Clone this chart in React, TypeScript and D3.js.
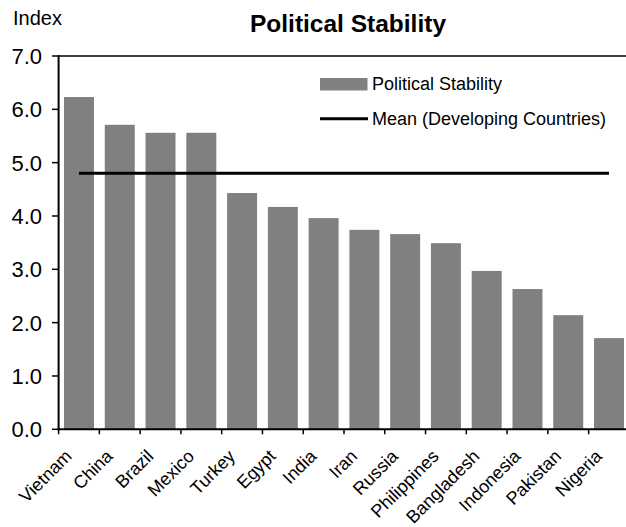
import React from "react";
import * as d3 from "d3";

const countries = ["Vietnam","China","Brazil","Mexico","Turkey","Egypt","India","Iran","Russia","Philippines","Bangladesh","Indonesia","Pakistan","Nigeria"];
const stability = [6.23,5.71,5.56,5.56,4.43,4.17,3.96,3.74,3.66,3.49,2.97,2.63,2.14,1.71];
const meanValue = 4.8;
const yTicks = [0,1,2,3,4,5,6,7];
const seriesNames = ["Political Stability","Mean (Developing Countries)"];

const W = 626, H = 527;
const FONT = "Liberation Sans, Arial, sans-serif";

export default function App() {
  const x = d3.scaleBand<string>().domain(countries).range([58.6, 629.4]).paddingInner(0).paddingOuter(0);
  const y = d3.scaleLinear().domain([0, 7]).range([429.3, 56]);
  const bw = x.bandwidth();
  const barW = bw * 0.735;
  const cx = (c: string) => (x(c) as number) + bw / 2;
  const boundaries = countries.map((c) => x(c) as number).concat([x.range()[1]]);
  const lineGen = d3.line<number>().x((_, i) => cx(countries[i])).y((d) => y(d));
  const meanPts = countries.map(() => meanValue);

  return (
    <svg width={W} height={H} style={{ position: "absolute", left: 0, top: 0, background: "#fff" }} fontFamily={FONT}>
      <rect x={0} y={0} width={W} height={H} fill="#fff" />
      <text x={13} y={25} fontSize={20} fill="#000">Index</text>
      <text x={348} y={32} fontSize={24.5} fontWeight="bold" textAnchor="middle" fill="#000">Political Stability</text>

      {countries.map((c, i) => (
        <rect key={c} x={cx(c) - barW / 2} y={y(stability[i])} width={barW} height={y(0) - y(stability[i])} fill="#808080" />
      ))}

      <path d={lineGen(meanPts) || ""} fill="none" stroke="#000" strokeWidth={3} />

      {/* top border */}
      <line x1={58.6} x2={W} y1={y(7)} y2={y(7)} stroke="#000" strokeWidth={1.5} />
      {/* y axis */}
      <line x1={58.6} x2={58.6} y1={y(7) - 0.75} y2={y(0) + 1} stroke="#000" strokeWidth={2} />
      {yTicks.map((t) => (
        <g key={t}>
          <line x1={52} x2={58.6} y1={y(t)} y2={y(t)} stroke="#000" strokeWidth={1.5} />
          <text x={42} y={y(t)} dy="0.36em" fontSize={22} textAnchor="end" fill="#000">{t.toFixed(1)}</text>
        </g>
      ))}
      {/* x axis */}
      <line x1={57.6} x2={W} y1={y(0)} y2={y(0)} stroke="#000" strokeWidth={2} />
      {boundaries.map((b, i) => (
        <line key={i} x1={b} x2={b} y1={y(0)} y2={y(0) + 5} stroke="#000" strokeWidth={1.5} />
      ))}
      {countries.map((c) => (
        <text key={c} transform={`translate(${cx(c) - 6},${y(0) + 28}) rotate(-45)`} fontSize={18} textAnchor="end" fill="#000">{c}</text>
      ))}

      {/* legend */}
      <rect x={320} y={78} width={47.5} height={12.5} fill="#808080" />
      <text x={372} y={89.5} fontSize={18} fill="#000">{seriesNames[0]}</text>
      <line x1={320} x2={368} y1={118.7} y2={118.7} stroke="#000" strokeWidth={3} />
      <text x={372} y={125} fontSize={18} fill="#000">{seriesNames[1]}</text>
    </svg>
  );
}
